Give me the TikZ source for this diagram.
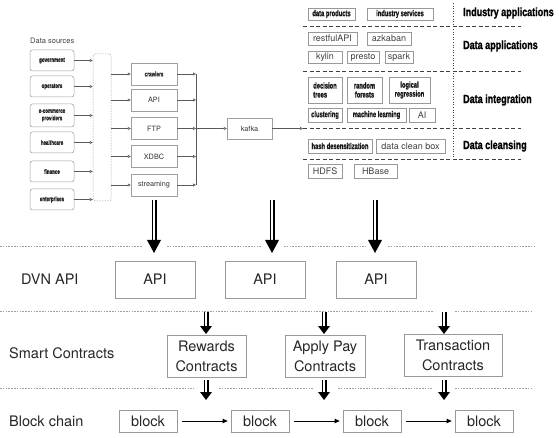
\documentclass[tikz,border=0pt]{standalone}
\usepackage{fontspec}
\setmainfont{TeX Gyre Heros}
\newfontfamily\condA[FakeStretch=0.75, FakeBold=1.2]{Liberation Sans}
\newfontfamily\condB[FakeStretch=0.68, FakeBold=1.2]{Liberation Sans}
\usetikzlibrary{arrows.meta,calc}
\newcommand\DArr[4]{%
  \draw[dbl, shorten >=#3pt-0.6pt] (#1) -- (#2);
  \fill[black] (#2) -- ($(#2)+(-#4/2,-#3)$) -- ($(#2)+(#4/2,-#3)$) -- cycle;}
\begin{document}
\begin{tikzpicture}[x=1pt,y=-1pt,
  src/.style={draw=gray!75, line width=0.5pt, rounded corners=2.5pt, minimum width=44pt, minimum height=21pt, inner sep=0pt, align=center, text=black!85, font={\condB\bfseries\fontsize{6.6}{7.4}\selectfont}},
  midb/.style={draw=gray!75, line width=0.5pt, minimum width=46pt, minimum height=22pt, inner sep=0pt, text=black!80, font={\fontsize{7.3}{8}\selectfont}},
  midc/.style={midb, font={\condB\bfseries\fontsize{6.8}{7.4}\selectfont}},
  rr/.style={draw=gray!80, line width=0.5pt, inner sep=0pt, align=center, text=black!75, font={\fontsize{9}{10}\selectfont}},
  rc/.style={draw=gray!80, line width=0.5pt, inner sep=0pt, align=center, text=black!90, font={\condB\bfseries\fontsize{8.5}{9}\selectfont}},
  head/.style={anchor=west, inner sep=0pt, font={\condA\bfseries\fontsize{12}{13}\selectfont}},
  sarrow/.style={draw=gray!70!black, line width=0.5pt, -{Triangle[open, length=3pt, width=3pt]}},
  sline/.style={draw=gray!70!black, line width=0.5pt},
  rdash/.style={draw=black!75, line width=0.9pt, dash pattern=on 4pt off 2.5pt},
  rdot/.style={draw=black!75, line width=0.9pt, dash pattern=on 1pt off 1.6pt},
  gdot/.style={draw=gray!75, line width=0.8pt, dash pattern=on 1.6pt off 1.2pt},
  lowbox/.style={draw=gray!80, line width=0.7pt, inner sep=0pt, align=center, text=black!85, font={\fontsize{14.5}{20}\selectfont}},
  lowlab/.style={anchor=west, inner sep=0pt, text=black!85, font={\fontsize{14.5}{16}\selectfont}},
  dbl/.style={draw=black, line width=1.25pt, double=white, double distance=2.5pt},
  barrow/.style={draw=black, line width=0.8pt, -{Triangle[length=5pt, width=4.5pt]}}
]
\useasboundingbox (0,0) rectangle (559,438);

% ---------- data sources ----------
\node[anchor=west, inner sep=0pt, text=black!75, font={\fontsize{7.5}{8}\selectfont}] (dslab) at (30,41) {Data sources};
\node[src] (gov) at (52,60.5) {government};
\node[src] (ope) at (52,86.5) {operators};
\node[src, minimum height=23pt] (ecom) at (52,115.5) {e-commerce\\providers};
\node[src] (hea) at (52,142.5) {healthcare};
\node[src] (fin) at (52,171.5) {finance};
\node[src] (ent) at (52,199.5) {enterprises};

\node[draw=gray!70, line width=0.5pt, dash pattern=on 1.5pt off 1.2pt, rounded corners=2pt, minimum width=18pt, minimum height=147pt, inner sep=0pt] (dbox) at (102,127.5) {};

\foreach \s in {gov,ope,ecom,hea,fin,ent}
  \draw[sarrow] (\s.east) -- (\s.east -| dbox.west);

% ---------- collection ----------
\node[midc] (crawl) at (154,74) {crawlers};
\node[midb] (api) at (154,100) {API};
\node[midb] (ftp) at (154,128.5) {FTP};
\node[midb] (xdbc) at (154,156.5) {XDBC};
\node[midb] (strm) at (154,185) {streaming};

\foreach \m in {crawl,api,ftp,xdbc,strm}
  \draw[sarrow] (\m.west -| dbox.east) -- (\m.west);

\coordinate (bus) at (196,74);
\foreach \m in {crawl,api,ftp,xdbc,strm}
  \draw[sarrow] (\m.east) -- (\m.east -| bus);
\draw[sline] (crawl.east -| bus) -- (strm.east -| bus);

\node[midb, minimum width=45pt, minimum height=21pt] (kafka) at (249.5,128.5) {kafka};
\draw[sarrow] (ftp.east -| bus) -- (kafka.west);
\coordinate (kout) at (303,128.5);
\draw[sarrow] (kafka.east) -- (kout);

% ---------- right layers ----------
\draw[rdash] (303,26) -- (521,26);
\draw[rdash] (303,71) -- (521,71);
\draw[rdash] (303,128.5) -- (521,128.5);
\draw[rdash] (303,159) -- (521,159);
\draw[rdot] (453,3) -- (453,159);

\node[head] (h1) at (463,13) {Industry applications};
\node[head] (h2) at (463,46) {Data applications};
\node[head] (h3) at (463,100) {Data integration};
\node[head] (h4) at (463,146) {Data cleansing};

\node[rc, minimum width=47pt, minimum height=12pt] (dprod) at (331.5,14) {data products};
\node[rc, minimum width=66pt, minimum height=12pt] (isvc) at (400,14) {industry services};
\node[rr, minimum width=49pt, minimum height=13pt] (rest) at (332.5,38.5) {restfulAPI};
\node[rr, minimum width=44pt, minimum height=13pt] (azk) at (389,38.5) {azkaban};
\node[rr, minimum width=34pt, minimum height=12pt] (kyl) at (325,57) {kylin};
\node[rr, minimum width=32pt, minimum height=12pt] (pres) at (363,57) {presto};
\node[rr, minimum width=28pt, minimum height=12pt] (spk) at (399,57) {spark};
\node[rc, minimum width=34pt, minimum height=26pt, align=left] (dtree) at (325,90) {decision\\trees};
\node[rc, minimum width=35pt, minimum height=26pt] (rfor) at (364.5,90) {random\\forests};
\node[rc, minimum width=41pt, minimum height=26pt] (lreg) at (409.5,90) {logical\\regression};
\node[rc, minimum width=34pt, minimum height=14pt] (clus) at (325,115) {clustering};
\node[rc, minimum width=59pt, minimum height=14pt] (ml) at (376.5,115) {machine learning};
\node[rr, minimum width=26pt, minimum height=14pt] (ai) at (422,115) {AI};
\node[rc, minimum width=64pt, minimum height=14pt] (hash) at (340,146) {hash desensitization};
\node[rr, minimum width=69pt, minimum height=14pt] (dcb) at (410.5,146) {data clean box};
\node[rr, minimum width=34pt, minimum height=14pt] (hdfs) at (325,171) {HDFS};
\node[rr, minimum width=43pt, minimum height=14pt] (hbase) at (375.5,171) {HBase};

% ---------- dotted separators ----------
\draw[gdot] (0,246) -- (142,246);
\draw[gdot] (167,246) -- (261,246);
\draw[gdot] (284,246) -- (366,246);
\draw[gdot] (388,246) -- (536,246);
\draw[gdot] (0,311) -- (434,311);
\draw[gdot] (455,311) -- (533,311);
\draw[gdot] (0,388) -- (194,388);
\draw[gdot] (219,388) -- (313,388);
\draw[gdot] (338,388) -- (433,388);
\draw[gdot] (455,388) -- (533,388);

% ---------- DVN API ----------
\node[lowlab] (dvn) at (21,279.5) {DVN API};
\node[lowbox, minimum width=80pt, minimum height=37pt] (api1) at (155,279.5) {API};
\node[lowbox, minimum width=80pt, minimum height=37pt] (api2) at (265,279.5) {API};
\node[lowbox, minimum width=80pt, minimum height=37pt] (api3) at (376,279.5) {API};

\coordinate (s1) at (154,200); \coordinate (t1) at (154,253);
\coordinate (s2) at (272,200); \coordinate (t2) at (272,253);
\coordinate (s3) at (375,200); \coordinate (t3) at (375,253);
\DArr{s1}{t1}{13}{14}
\DArr{s2}{t2}{13}{14}
\DArr{s3}{t3}{13}{14}

% ---------- Smart contracts ----------
\node[lowlab] (sc) at (9,353) {Smart Contracts};
\node[lowbox, minimum width=79pt, minimum height=42pt] (rew) at (206.5,356) {Rewards\\Contracts};
\node[lowbox, minimum width=80pt, minimum height=42pt] (app) at (325,356) {Apply Pay\\Contracts};
\node[lowbox, minimum width=98pt, minimum height=42pt] (trn) at (453,355) {Transaction\\Contracts};

\coordinate (u1) at (206,312); \coordinate (v1) at (206,334);
\coordinate (u2) at (324,312); \coordinate (v2) at (324,334);
\coordinate (u3) at (444,312); \coordinate (v3) at (444,334);
\DArr{u1}{v1}{8}{12}
\DArr{u2}{v2}{8}{12}
\DArr{u3}{v3}{8}{12}

\coordinate (p1) at (206,380); \coordinate (q1) at (206,400);
\coordinate (p2) at (324,380); \coordinate (q2) at (324,400);
\coordinate (p3) at (444,380); \coordinate (q3) at (444,400);
\DArr{p1}{q1}{8}{12}
\DArr{p2}{q2}{8}{12}
\DArr{p3}{q3}{8}{12}

% ---------- Block chain ----------
\node[lowlab] (bc) at (9,421) {Block chain};
\node[lowbox, minimum width=58pt, minimum height=22pt] (b1) at (148,421) {block};
\node[lowbox, minimum width=58pt, minimum height=22pt] (b2) at (260,421) {block};
\node[lowbox, minimum width=58pt, minimum height=22pt] (b3) at (372,421) {block};
\node[lowbox, minimum width=58pt, minimum height=22pt] (b4) at (484,421) {block};
\draw[barrow, shorten <=5pt, shorten >=3pt] (b1) -- (b2);
\draw[barrow, shorten <=5pt, shorten >=3pt] (b2) -- (b3);
\draw[barrow, shorten <=5pt, shorten >=3pt] (b3) -- (b4);
\end{tikzpicture}
\end{document}
